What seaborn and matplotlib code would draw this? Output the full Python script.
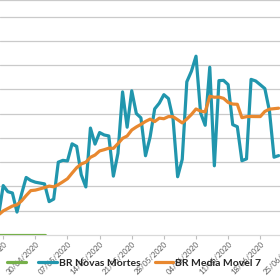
import matplotlib
matplotlib.use("Agg")
import matplotlib.pyplot as plt
import matplotlib.dates as mdates
import matplotlib.transforms as mtransforms
from matplotlib.lines import Line2D
import seaborn as sns
import pandas as pd

# ---------------- data ----------------
datas = pd.date_range("2020-04-22", "2020-06-22", freq="D")

novas_mortes = [165, 407, 357, 346, 189, 338, 474, 449, 435, 428,
                421, 275, 296, 600, 615, 610, 751, 730, 496, 396,
                881, 749, 844, 824, 816, 485, 674, 1179, 888, 1188,
                1001, 965, 653, 807, 1039, 1086, 1156, 1124, 956, 480,
                623, 1262, 1349, 1473, 1005, 904, 1382, 570, 1272, 1274,
                1239, 909, 892, 612, 627, 1282, 1269, 1238, 1206, 1022,
                641, 654]

media_movel_7 = [167.1, 198.4, 218.4, 238.4, 249.0, 281.1, 325.1, 365.7, 369.7, 379.9,
                 390.6, 402.9, 396.9, 414.9, 438.6, 463.6, 509.7, 553.9, 585.4, 599.7,
                 639.9, 659.0, 692.4, 702.9, 715.1, 713.6, 753.3, 795.9, 815.7, 864.9,
                 890.1, 911.4, 935.4, 954.4, 934.4, 962.7, 958.1, 975.7, 974.4, 949.7,
                 923.4, 955.3, 992.9, 1038.1, 1021.1, 1013.7, 1142.6, 1135.0, 1136.4, 1125.7,
                 1092.3, 1078.6, 1076.9, 966.9, 975.0, 976.4, 975.7, 975.6, 1018.0, 1036.6,
                 1040.7, 1044.6]

datas_verde = pd.date_range("2020-04-21", "2020-05-02", freq="D")
serie_verde = [0, 0, 0, 0, 0, 0, 0, 0, 0, 0, 0, 0]

tick_datas = ["2020-04-23", "2020-04-30", "2020-05-07", "2020-05-14", "2020-05-21",
              "2020-05-28", "2020-06-04", "2020-06-11", "2020-06-18", "2020-06-25"]
tick_labels = ["23/04/2020", "30/04/2020", "07/05/2020", "14/05/2020", "21/05/2020",
               "28/05/2020", "04/06/2020", "11/06/2020", "18/06/2020", "25/06/2020"]

nome_verde = ""
nome_azul = "BR Novas Mortes"
nome_laranja = "BR Media Movel 7"

# ---------------- style ----------------
AZUL = "#2196AD"
LARANJA = "#E8882F"
VERDE = "#76B04A"
GRID = "#cacaca"

sns.set_style("white")
plt.rcParams["font.family"] = ["Lato", "DejaVu Sans"]

df = pd.DataFrame({"data": datas, "mortes": novas_mortes, "media": media_movel_7})
dfv = pd.DataFrame({"data": datas_verde, "valor": serie_verde})

fig = plt.figure(figsize=(2.8, 2.8), dpi=100)
ax = fig.add_axes([0, 45 / 280, 1, 235 / 280])

LW = 2.3
sns.lineplot(data=dfv, x="data", y="valor", ax=ax, color=VERDE, lw=LW, zorder=4)
sns.lineplot(data=df, x="data", y="mortes", ax=ax, color=AZUL, lw=LW, zorder=5)
sns.lineplot(data=df, x="data", y="media", ax=ax, color=LARANJA, lw=LW, zorder=6)

ref = pd.Timestamp("2020-04-26")
ax.set_xlim(ref - pd.Timedelta(days=3.70), ref + pd.Timedelta(days=57.30))
ax.set_ylim(0, 1936)

ax.set_yticks(range(200, 2000, 200))
ax.yaxis.grid(True, color=GRID, lw=0.9)
ax.tick_params(axis="y", left=False, labelleft=False)
ax.set_xlabel("")
ax.set_ylabel("")

for s in ["left", "right"]:
    ax.spines[s].set_visible(False)
ax.spines["top"].set_color(GRID)
ax.spines["top"].set_linewidth(0.9)
ax.spines["bottom"].set_color("#d9d9d9")
ax.spines["bottom"].set_linewidth(0.9)

tick_ts = [pd.Timestamp(t) for t in tick_datas]
in_range = [t for t in tick_ts if t <= ref + pd.Timedelta(days=57.3)]
ax.set_xticks(in_range)
ax.set_xticklabels([""] * len(in_range))
ax.tick_params(axis="x", bottom=True, direction="out", length=3, width=0.8,
               color="#bfbfbf", labelbottom=False)

trans = mtransforms.blended_transform_factory(ax.transData, ax.transAxes)
for t, lab in zip(tick_ts, tick_labels):
    ax.text(mdates.date2num(t), -5 / 235, lab, transform=trans, rotation=45,
            rotation_mode="anchor", ha="right", va="top", fontsize=5.6,
            color="#595959", clip_on=False, zorder=1)

leg_kw = dict(loc="center left", frameon=False, fontsize=7.5, handlelength=1.8,
              handletextpad=0.2, borderpad=0, borderaxespad=0)
leg1 = fig.legend([Line2D([], [], color=VERDE, lw=LW)], [nome_verde], ncol=1,
                  bbox_to_anchor=(7 / 280, 17 / 280), **leg_kw)
leg2 = fig.legend([Line2D([], [], color=AZUL, lw=LW),
                   Line2D([], [], color=LARANJA, lw=LW)],
                  [nome_azul, nome_laranja], ncol=2, columnspacing=1.35,
                  bbox_to_anchor=(38 / 280, 17 / 280), **leg_kw)
for leg in (leg1, leg2):
    for txt in leg.get_texts():
        txt.set_fontweight("bold")
        txt.set_color("#262626")

fig.savefig("out.png", dpi=100)
